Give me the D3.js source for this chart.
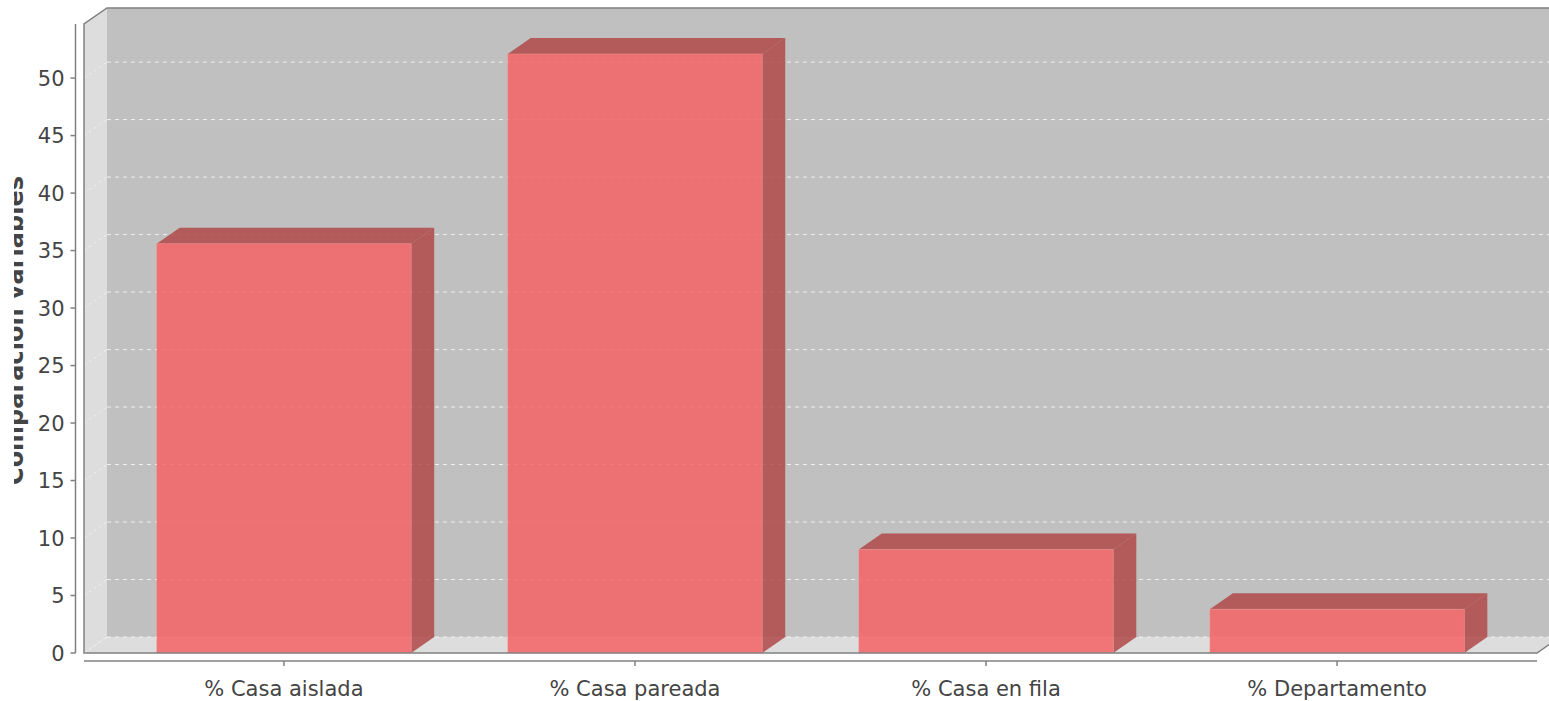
<!DOCTYPE html>
<html>
<head>
<meta charset="utf-8">
<script src="https://cdn.jsdelivr.net/npm/d3@7"></script>
<style>
  html, body { margin: 0; padding: 0; background: #ffffff; }
  svg { display: block; }
  text { font-family: "DejaVu Sans", sans-serif; }
</style>
</head>
<body>
<svg id="chart" width="1549" height="701"></svg>
<script>
// Housing type shares (%)
const categories = ["% Casa aislada", "% Casa pareada", "% Casa en fila", "% Departamento"];
const values = [35.6, 52.1, 9.0, 3.8];
const yTicks = [0, 5, 10, 15, 20, 25, 30, 35, 40, 45, 50];
const yLabel = "Comparación variables";

const W = 1549, H = 701;
const svg = d3.select("#chart");

// 3D plot geometry: front plane plus a depth offset toward the back
const dx = 23, dy = 16;
const plotLeft = 84, plotRight = 1537 + dx;   // outer data area
const plotTop = 8, plotBottom = 653;

const x = d3.scaleBand()
  .domain(categories)
  .range([plotLeft, plotRight - dx])
  .paddingInner(0.275)
  .paddingOuter(0.207);

const y = d3.scaleLinear()
  .domain([0, d3.max(values) * 1.05])
  .range([plotBottom, plotTop + dy]);

const wallFill = "#dddddd", backFill = "#c0c0c0", outline = "#808080";

// Back wall
svg.append("rect")
  .attr("x", plotLeft + dx).attr("y", plotTop)
  .attr("width", plotRight - plotLeft - dx).attr("height", plotBottom - dy - plotTop)
  .attr("fill", backFill);

// Left side wall
svg.append("polygon")
  .attr("points", [[plotLeft, plotBottom], [plotLeft, plotTop + dy], [plotLeft + dx, plotTop], [plotLeft + dx, plotBottom - dy]].join(" "))
  .attr("fill", wallFill);

// Floor
svg.append("polygon")
  .attr("points", [[plotLeft, plotBottom], [plotLeft + dx, plotBottom - dy], [plotRight, plotBottom - dy], [plotRight - dx, plotBottom]].join(" "))
  .attr("fill", wallFill);

// Gridlines: dashed across back wall, faint diagonal across side wall
const grid = svg.append("g");
grid.selectAll("line.back").data(yTicks).join("line")
  .attr("class", "back")
  .attr("x1", plotLeft + dx).attr("x2", plotRight)
  .attr("y1", d => y(d) - dy).attr("y2", d => y(d) - dy)
  .attr("stroke", "#ffffff").attr("stroke-opacity", 0.75)
  .attr("stroke-width", 1).attr("stroke-dasharray", "4,4");
grid.selectAll("line.side").data(yTicks).join("line")
  .attr("class", "side")
  .attr("x1", plotLeft).attr("x2", plotLeft + dx)
  .attr("y1", d => y(d)).attr("y2", d => y(d) - dy)
  .attr("stroke", "#ffffff").attr("stroke-opacity", 0.5)
  .attr("stroke-width", 1).attr("stroke-dasharray", "3,3");

// Bars: front face, top face and right side face
const frontFill = "rgb(245,98,100)", darkFill = "rgb(176,72,72)", barAlpha = 0.85;
const bars = svg.append("g").selectAll("g").data(categories.map((c, i) => ({ c, v: values[i] }))).join("g");

bars.append("polygon")
  .attr("points", d => {
    const x0 = x(d.c) + x.bandwidth(), yt = y(d.v);
    return [[x0, yt], [x0 + dx, yt - dy], [x0 + dx, y(0) - dy], [x0, y(0)]].join(" ");
  })
  .attr("fill", darkFill).attr("fill-opacity", barAlpha);

bars.append("polygon")
  .attr("points", d => {
    const x0 = x(d.c), x1 = x0 + x.bandwidth(), yt = y(d.v);
    return [[x0, yt], [x0 + dx, yt - dy], [x1 + dx, yt - dy], [x1, yt]].join(" ");
  })
  .attr("fill", darkFill).attr("fill-opacity", barAlpha);

bars.append("rect")
  .attr("x", d => x(d.c)).attr("y", d => y(d.v))
  .attr("width", x.bandwidth()).attr("height", d => y(0) - y(d.v))
  .attr("fill", frontFill).attr("fill-opacity", barAlpha)
  .attr("stroke", "rgba(255,160,160,0.35)").attr("stroke-width", 1);

// Plot outline with clipped 3D corners
svg.append("polygon")
  .attr("points", [[plotLeft, plotBottom], [plotLeft, plotTop + dy], [plotLeft + dx, plotTop], [plotRight, plotTop], [plotRight, plotBottom - dy], [plotRight - dx, plotBottom]].join(" "))
  .attr("fill", "none").attr("stroke", outline).attr("stroke-width", 1.5);

// Y axis
const yAxis = svg.append("g").attr("transform", "translate(75.5,0)");
yAxis.append("line")
  .attr("x1", 0).attr("x2", 0).attr("y1", y.range()[1]).attr("y2", y(0))
  .attr("stroke", outline).attr("stroke-width", 1.5);
const yt = yAxis.selectAll("g").data(yTicks).join("g")
  .attr("transform", d => `translate(0,${y(d)})`);
yt.append("line").attr("x1", -5).attr("x2", 0).attr("stroke", outline).attr("stroke-width", 1.5);
yt.append("text")
  .attr("x", -11).attr("dy", "0.36em")
  .attr("text-anchor", "end")
  .attr("font-size", 21).attr("fill", "#444")
  .text(d => d);

// Y axis title, partially clipped at the left edge
svg.append("clipPath").attr("id", "ylabel-clip")
  .append("rect").attr("x", 14).attr("y", 0).attr("width", 30).attr("height", H);
svg.append("g")
  .attr("clip-path", "url(#ylabel-clip)")
  .append("text")
  .attr("transform", `translate(23,${(plotTop + plotBottom) / 2}) rotate(-90)`)
  .attr("text-anchor", "middle")
  .attr("font-size", 24).attr("font-weight", "bold").attr("fill", "#444")
  .text(yLabel);

// X axis
const xAxisY = 661;
const xAxis = svg.append("g");
xAxis.append("line")
  .attr("x1", plotLeft).attr("x2", plotRight - dx).attr("y1", xAxisY).attr("y2", xAxisY)
  .attr("stroke", outline).attr("stroke-width", 1.5);
const xt = xAxis.selectAll("g").data(categories).join("g")
  .attr("transform", d => `translate(${x(d) + x.bandwidth() / 2},${xAxisY})`);
xt.append("line").attr("y1", 0).attr("y2", 5).attr("stroke", outline).attr("stroke-width", 1.5);
xt.append("text")
  .attr("y", 35)
  .attr("text-anchor", "middle")
  .attr("font-size", 21).attr("fill", "#444")
  .text(d => d);
</script>
</body>
</html>
